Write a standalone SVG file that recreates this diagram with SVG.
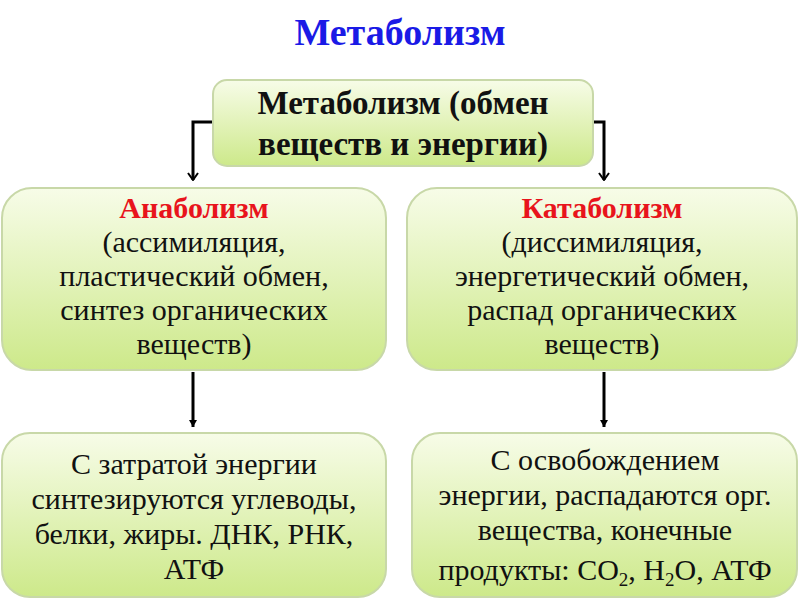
<svg xmlns="http://www.w3.org/2000/svg" width="800" height="600" viewBox="0 0 800 600">
<defs>
<linearGradient id="g" x1="0" y1="0" x2="0" y2="1"><stop offset="0" stop-color="#f7fce8"/><stop offset="1" stop-color="#cde98a"/></linearGradient>
<marker id="v" viewBox="0 0 12 12" refX="6" refY="11" markerWidth="12" markerHeight="12" markerUnits="userSpaceOnUse" orient="0"><path d="M1,4 L6,11 L11,4" fill="none" stroke="#000" stroke-width="2"/></marker>
<marker id="t" viewBox="0 0 10 10" refX="5" refY="9" markerWidth="10" markerHeight="10" markerUnits="userSpaceOnUse" orient="0"><path d="M1,2 L5,9 L9,2 Z" fill="#000"/></marker>
<style>
.box{fill:url(#g);stroke:#c8d8a8;stroke-width:2}
text{font-family:"Liberation Serif","DejaVu Serif",serif;font-size:30px;text-anchor:middle;fill:#111}
.b{font-weight:bold}
.r{fill:#e8141c;font-weight:bold}
.c{fill:none;stroke:#000;stroke-width:3}
</style>
</defs>
<rect width="800" height="600" fill="#fff"/>
<text x="400" y="45" class="b" style="fill:#1a1ae6;font-size:38px">Метаболизм</text>
<g id="connectors">
<path class="c" d="M214,122 H193 V180" marker-end="url(#v)"/>
<path class="c" d="M592,122 H604 V180" marker-end="url(#v)"/>
<path class="c" d="M193,372 V427" marker-end="url(#t)"/>
<path class="c" d="M604,372 V427" marker-end="url(#t)"/>
</g>
<g id="top"><rect class="box" x="213" y="80" width="380" height="86" rx="14"/>
<text x="403" y="114" class="b" style="font-size:33px">Метаболизм (обмен</text>
<text x="403" y="155" class="b" style="font-size:33px">веществ и энергии)</text></g>
<g id="anab"><rect class="box" x="2" y="188" width="384" height="182" rx="30"/>
<text x="194" y="218" class="r">Анаболизм</text>
<text x="194" y="252">(ассимиляция,</text>
<text x="194" y="286">пластический обмен,</text>
<text x="194" y="320">синтез органических</text>
<text x="194" y="354">веществ)</text></g>
<g id="katab"><rect class="box" x="407" y="188" width="390" height="182" rx="30"/>
<text x="602" y="218" class="r">Катаболизм</text>
<text x="602" y="252">(диссимиляция,</text>
<text x="602" y="286">энергетический обмен,</text>
<text x="602" y="320">распад органических</text>
<text x="602" y="354">веществ)</text></g>
<g id="anabres"><rect class="box" x="2" y="433" width="384" height="164" rx="28"/>
<text x="194" y="474">С затратой энергии</text>
<text x="194" y="509">синтезируются углеводы,</text>
<text x="194" y="544">белки, жиры. ДНК, РНК,</text>
<text x="194" y="579">АТФ</text></g>
<g id="katabres"><rect class="box" x="412" y="433" width="385" height="164" rx="28"/>
<text x="605" y="470">С освобождением</text>
<text x="605" y="505">энергии, распадаются орг.</text>
<text x="605" y="540">вещества, конечные</text>
<text x="605" y="580">продукты: CO<tspan font-size="19" dy="6">2</tspan><tspan dy="-6">, H</tspan><tspan font-size="19" dy="6">2</tspan><tspan dy="-6">O, АТФ</tspan></text></g>
</svg>
